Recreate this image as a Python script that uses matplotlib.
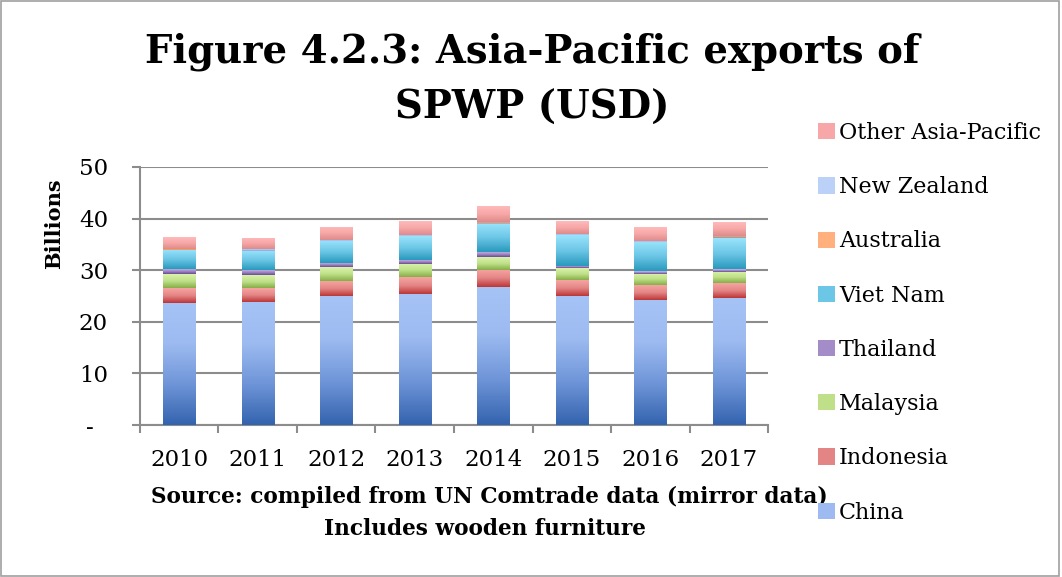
import numpy as np
import matplotlib
matplotlib.use("Agg")
import matplotlib.pyplot as plt
from matplotlib.colors import LinearSegmentedColormap
from matplotlib.patches import Rectangle, Patch

years = ["2010", "2011", "2012", "2013", "2014", "2015", "2016", "2017"]
china = [23.7, 23.9, 25.0, 25.4, 26.7, 25.0, 24.2, 24.6]
indonesia = [2.9, 2.7, 2.9, 3.2, 3.3, 3.1, 2.9, 2.9]
malaysia = [2.6, 2.4, 2.7, 2.6, 2.5, 2.3, 2.2, 2.2]
thailand = [1.0, 1.0, 0.8, 0.8, 1.0, 0.5, 0.5, 0.5]
viet_nam = [3.8, 3.7, 4.3, 4.6, 5.5, 5.9, 5.7, 6.0]
australia = [0.05, 0.05, 0.05, 0.05, 0.05, 0.05, 0.05, 0.2]
new_zealand = [0.1, 0.3, 0.1, 0.1, 0.2, 0.1, 0.1, 0.2]
other = [2.2, 2.2, 2.6, 2.7, 3.1, 2.5, 2.7, 2.7]
yticks = [0, 10, 20, 30, 40, 50]
ytick_labels = ["-  ", "10", "20", "30", "40", "50"]

series = [
    ("China", china, ["#3363ae", "#6f95d8", "#9dbbf1", "#a6c3f6"]),
    ("Indonesia", indonesia, ["#bc3536", "#e48585", "#f6a5a2"]),
    ("Malaysia", malaysia, ["#86ad46", "#bfe089", "#daf3aa"]),
    ("Thailand", thailand, ["#6a4a96", "#a48cc8", "#cbb9e4"]),
    ("Viet Nam", viet_nam, ["#2899bd", "#6cc6e6", "#9ae4fc"]),
    ("Australia", australia, ["#ee7a24", "#ffb07c"]),
    ("New Zealand", new_zealand, ["#87a6df", "#bcd1f7"]),
    ("Other Asia-Pacific", other, ["#dd8a8a", "#f7a7a7", "#ffbaba"]),
]

fig = plt.figure(figsize=(10.62, 5.77), dpi=100)
ax = fig.add_axes([0.1318, 0.2634, 0.5914, 0.4472])

x = np.arange(len(years))
bottom = np.zeros(len(years))
handles = []
grad = np.linspace(0, 1, 256).reshape(-1, 1)
for name, vals, cols in series:
    cmap = LinearSegmentedColormap.from_list(name, cols)
    bars = ax.bar(x, vals, width=0.41, bottom=bottom, color=cols[len(cols) // 2],
                  edgecolor="none", zorder=3)
    for b in bars:
        x0, y0 = b.get_x(), b.get_y()
        w, h = b.get_width(), b.get_height()
        im = ax.imshow(grad, cmap=cmap, origin="lower", aspect="auto",
                       extent=[x0, x0 + w, y0, y0 + h], zorder=4)
        im.set_clip_path(b)
    bottom += np.array(vals)
    handles.append(Patch(facecolor=cols[len(cols) // 2], edgecolor="none"))

ax.set_xlim(-0.5, len(years) - 0.5)
ax.set_ylim(0, 50)

serif = "DejaVu Serif"
ax.set_yticks(yticks)
ax.set_yticklabels(ytick_labels, fontfamily=serif, fontsize=16.5)
ax.set_xticks(x)
ax.set_xticklabels(years, fontfamily=serif, fontsize=16.5)
ax.set_xticks(np.arange(len(years) + 1) - 0.5, minor=True)
ax.tick_params(axis="x", which="major", length=0, pad=17)
ax.tick_params(axis="x", which="minor", length=6, width=1.5, color="#8c8c8c", direction="out")
ax.tick_params(axis="y", length=6, width=1.5, color="#8c8c8c", pad=17)
ax.yaxis.grid(True, color="#8c8c8c", linewidth=1.5, zorder=0)
for s in ["top", "right"]:
    ax.spines[s].set_visible(False)
for s in ["left", "bottom"]:
    ax.spines[s].set_color("#8c8c8c")
    ax.spines[s].set_linewidth(1.5)

fig.text(0.0508, 0.612, "Billions", rotation=90, fontfamily=serif, fontweight="bold",
         fontsize=15, ha="center", va="center")

fig.text(0.501, 0.91, "Figure 4.2.3: Asia-Pacific exports of", fontfamily=serif,
         fontweight="bold", fontsize=27.8, ha="center", va="center")
fig.text(0.501, 0.813, "SPWP (USD)", fontfamily=serif,
         fontweight="bold", fontsize=27.8, ha="center", va="center")

fig.text(0.461, 0.139, "Source: compiled from UN Comtrade data (mirror data)", fontfamily=serif,
         fontweight="bold", fontsize=15.6, ha="center", va="center")
fig.text(0.457, 0.083, "Includes wooden furniture", fontfamily=serif,
         fontweight="bold", fontsize=15.6, ha="center", va="center")

names = [s[0] for s in series]
leg = fig.legend(handles[::-1], names[::-1], loc="upper left",
                 bbox_to_anchor=(0.762, 0.804), frameon=False,
                 prop={"family": serif, "size": 16},
                 handlelength=0.75, handleheight=0.75, handletextpad=0.2,
                 labelspacing=1.45, borderaxespad=0)

fig.patches.append(Rectangle((0.001, 0.002), 0.996, 0.996, transform=fig.transFigure,
                             fill=False, edgecolor="#a0a0a0", linewidth=1.2))

fig.savefig("out.png", dpi=100)
